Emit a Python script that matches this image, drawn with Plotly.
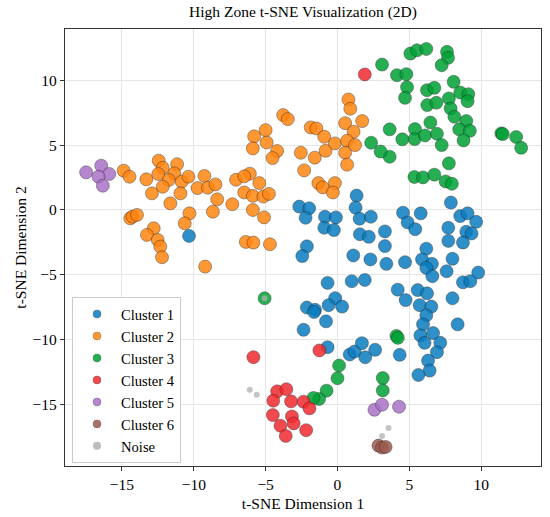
import plotly.graph_objects as go

# ---- data ----
c1_x = [-10.33, -2.66, -1.97, -2.22, -0.87, -0.11, -0.92, -0.25, -2.13, -2.45, 1.33, 1.26, 1.54, 2.32, 1.56, 2.18,
        1.1, 2.29, -0.69, 0.99, 1.9, -0.16, -0.62, 0.32, -2.13, -1.56,
        3.3, 3.3, 3.4, 7.89, 4.56, 5.79, 4.88, 5.41, 8.54, 9.05, 9.65, 7.71, 8.96, 9.33, 7.71, 8.73, 6.18,
        4.7, 5.88, 6.57, 6.18, 6.6, 8.0, 7.59, 9.79, 8.73, 9.24, 4.19, 5.58, 6.23, 4.74, 8.0, 5.72, 6.53,
        -1.63, -0.8, -2.36, -0.69, 0.85, 1.19, 1.7, 1.93, 2.62,
        6.18, 5.95, 8.36, 5.77, 6.65, 6.06, 7.15, 6.92, 4.33, 6.3, 6.41, 5.63]
c1_y = [-2.0, 0.26, 0.13, -0.6, -0.52, -0.57, -1.37, -1.55, -2.8, -3.55, 1.11, 0.18, -0.67, -0.52, -1.87, -2.07,
        -3.5, -3.81, -5.62, -5.49, -5.39, -6.79, -7.33, -7.44, -7.51, -7.69,
        -1.65, -2.78, -4.15, 0.57, -0.21, -0.26, -0.96, -1.48, -0.47, -0.26, -0.91, -1.37, -1.68, -1.81, -2.38, -2.51, -2.98,
        -4.02, -3.81, -4.15, -4.46, -5.1, -3.76, -4.72, -4.82, -5.57, -5.49, -6.14, -6.17, -6.42, -6.94, -6.8, -7.33, -7.44,
        -7.86, -8.58, -9.23, -10.57, -11.13, -10.9, -10.26, -11.34, -10.77,
        -8.12, -8.81, -8.81, -9.66, -9.48, -10.23, -10.23, -10.95, -11.16, -11.6, -12.37, -12.71]

c2_x = [0.76, 0.89, -3.78, -3.46, 0.53, 1.72, 1.12, -1.86, -1.47, -0.92, -5.0, -5.8, -4.93, -5.89, -4.2, -4.52,
        -2.55, -1.58, -0.83, -0.18, 0.67, 0.53, 1.22, 0.67, -2.32, -6.1,
        -14.88, -14.47, -13.3, -12.44, -12.16, -12.47, -11.16, -11.35, -11.74, -12.16, -10.84, -10.37, -12.91,
        -10.93, -11.63, -9.26, -9.74, -9.02, -8.49, -8.37, -8.67, -10.3, -10.63,
        -14.42, -14.26, -13.95, -12.79, -13.26, -12.51, -12.33, -12.21, -9.21,
        -7.06, -6.49, -5.44, -6.49, -5.89, -5.16, -4.77, -7.32, -5.89, -5.11, -6.38, -5.85, -4.7,
        -1.33, -1.03, -0.18, -0.32]
c2_y = [8.51, 7.8, 7.31, 7.0, 6.69, 6.85, 6.03, 6.36, 6.28, 5.64, 6.15, 5.67, 5.2, 4.74, 4.54, 4.0,
        4.41, 4.03, 4.56, 5.13, 5.33, 4.41, 5.0, 3.49, 3.05, 2.8,
        3.03, 2.56, 2.36, 3.8, 3.25, 2.77, 3.52, 2.82, 2.31, 1.79, 2.18, 2.56, 1.28,
        1.28, 0.51, 2.62, 1.69, 1.72, 1.97, 0.82, -0.13, -0.26, -1.03,
        -0.64, -0.51, -0.38, -1.41, -1.92, -2.31, -2.82, -3.64, -4.36,
        2.33, 2.59, 2.07, 1.35, 1.09, 1.04, 1.24, 0.44, 0.0, -0.57, -2.46, -2.51, -2.64,
        2.07, 1.74, 2.07, 1.35]

c3_x = [3.1, 5.07, 5.53, 6.18, 7.62, 7.69, 7.25, 4.14, 4.79, 4.84, 4.70, 8.08, 6.23, 6.74, 6.25, 6.88, 7.75,
        8.54, 9.10, 9.05, 7.87, 8.13, 8.96, 6.46, 8.47, 9.21, 3.63, 5.39, 4.51, 5.37, 6.09, 6.92, 7.25, 8.77,
        11.4, 11.5, 12.43, 12.78, 3.63, 7.75, 2.34, 3.0,
        5.35, 5.95, 6.74, 7.52, 7.96,
        -5.07, 0.11, 0.0, -0.76, -1.28, -1.67, 3.15, 3.15, 4.1, 4.2]
c3_y = [11.2, 12.05, 12.3, 12.4, 12.18, 11.72, 11.15, 10.38, 10.46, 9.46, 8.64, 9.87, 9.23, 9.41, 8.08, 8.26, 8.59,
        9.05, 8.92, 8.38, 7.82, 7.18, 6.85, 6.74, 6.21, 6.1, 6.21, 6.23, 5.44, 5.46, 5.74, 5.87, 5.0, 5.36,
        5.9, 5.85, 5.62, 4.79, 4.1, 3.59, 5.18, 4.5,
        2.54, 2.51, 2.72, 2.2, 2.02,
        -6.8, -11.98, -12.96, -13.92, -14.56, -14.48, -12.95, -13.9, -9.7, -9.85]

c4_x = [1.9, -1.26, -5.85, -4.2, -3.56, -4.47, -3.23, -2.36, -1.95, -4.5, -3.17, -3.05, -3.97, -2.18, -3.6]
c4_y = [10.44, -10.82, -11.34, -13.97, -13.81, -14.69, -14.74, -14.77, -15.28, -15.8, -15.9, -16.44, -16.62, -16.96, -17.4]

c5_x = [-17.49, -16.44, -15.88, -16.63, -16.33, 2.57, 3.1, 4.28]
c5_y = [2.9, 3.41, 2.77, 2.56, 1.87, -15.39, -15.0, -15.15]

c6_x = [2.85, 3.1, 3.35]
c6_y = [-18.15, -18.3, -18.25]

noise_x = [-6.1, -5.62, 3.55, 3.1, -5.07]
noise_y = [-13.84, -14.23, -16.8, -17.4, -6.8]

tick_vals = [-15, -10, -5, 0, 5, 10]
tick_text = ["\u221215", "\u221210", "\u22125", "0", "5", "10"]

names = ["Cluster 1", "Cluster 2", "Cluster 3", "Cluster 4", "Cluster 5", "Cluster 6", "Noise"]
colors = ["#0a7cc0", "#ff8510", "#00a235", "#f02a30", "#aa72c8", "#9c5a4e", "#b0b0b0"]

series = [(c1_x, c1_y), (c2_x, c2_y), (c3_x, c3_y), (c4_x, c4_y), (c5_x, c5_y), (c6_x, c6_y), (noise_x, noise_y)]

FONT = "Times New Roman, Liberation Serif, serif"
FS = 15.5
fig = go.Figure()
for (xs, ys), nm, col in zip(series, names, colors):
    is_noise = nm == "Noise"
    fig.add_trace(go.Scatter(
        x=xs, y=ys, mode="markers", name=nm, showlegend=False,
        marker=dict(size=6 if is_noise else 13, color=col, opacity=0.75 if is_noise else 0.85,
                    line=dict(color="rgba(30,30,30,0.75)", width=0 if is_noise else 0.6)),
    ))
# legend entries
for nm, col in zip(names, colors):
    fig.add_trace(go.Scatter(
        x=[None], y=[None], mode="markers", name=nm,
        marker=dict(size=8, color=col, opacity=0.85,
                    line=dict(color="rgba(30,30,30,0.6)", width=0 if nm == "Noise" else 0.5)),
    ))

axis_common = dict(
    showgrid=True, gridcolor="#e6e6e6", gridwidth=1, zeroline=False,
    showline=True, linecolor="#333333", linewidth=1.3, mirror=True,
    ticks="outside", ticklen=4, tickwidth=1, tickcolor="#333333",
    tickfont=dict(family=FONT, size=FS, color="black"),
    automargin=False,
)
fig.update_layout(
    width=550, height=517,
    margin=dict(l=65, r=9, t=29, b=51),
    paper_bgcolor="white", plot_bgcolor="white",
    font=dict(family=FONT, size=FS, color="black"),
    title=dict(text="High Zone t-SNE Visualization (2D)", x=(65 + 541) / 2 / 550, xanchor="center",
               y=1 - 12 / 517, yanchor="middle", yref="container",
               font=dict(family=FONT, size=FS, color="black")),
    xaxis=dict(range=[-18.96, 14.16], tickvals=tick_vals, ticktext=tick_text,
               title=dict(text="t-SNE Dimension 1", standoff=6, font=dict(family=FONT, size=FS)),
               **axis_common),
    yaxis=dict(range=[-19.72, 13.94], tickvals=tick_vals, ticktext=tick_text,
               title=dict(text="t-SNE Dimension 2", standoff=2, font=dict(family=FONT, size=FS)),
               **axis_common),
    legend=dict(x=(72 - 65) / 476, y=(466 - 297) / 437, xanchor="left", yanchor="top",
                bgcolor="rgba(255,255,255,0.85)", bordercolor="#cccccc", borderwidth=1,
                font=dict(family=FONT, size=14.6), tracegroupgap=0, itemsizing="trace", itemwidth=38),
    showlegend=True,
)
fig.write_html("out.html", config={"displayModeBar": False},
               post_script="document.body.style.margin='0';")
